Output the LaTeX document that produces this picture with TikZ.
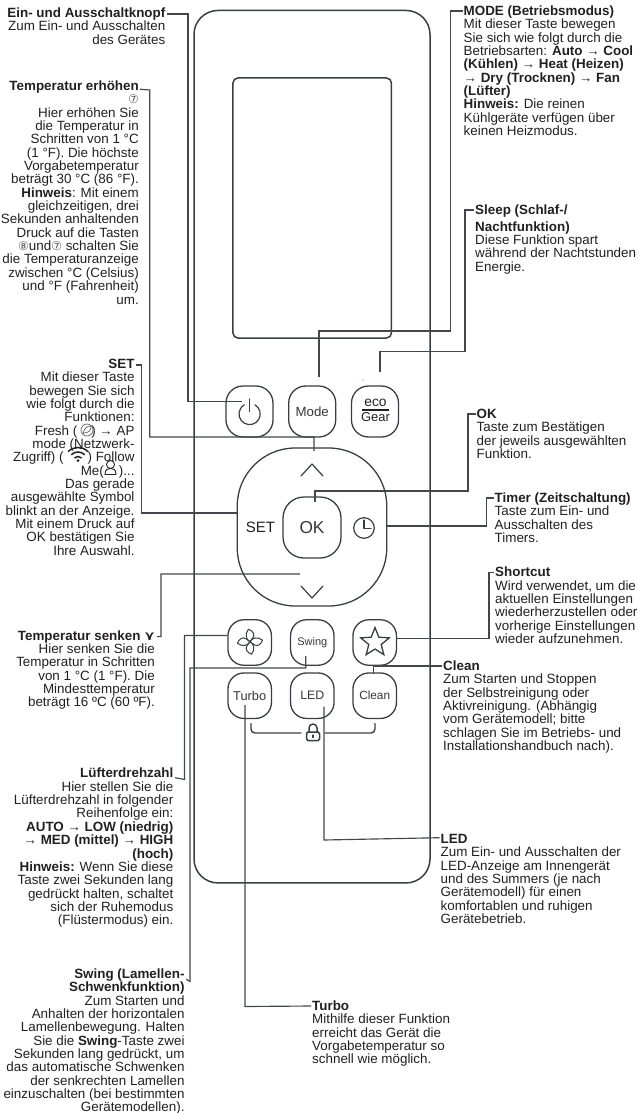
\documentclass[tikz,border=0pt]{standalone}
\usepackage{fontspec}
\usetikzlibrary{shapes.geometric}
\setmainfont{Liberation Sans}
\newfontfamily\djv{DejaVu Sans}
\definecolor{ink}{HTML}{231F20}
\definecolor{wire}{HTML}{43474B}
\definecolor{body}{HTML}{3A3E42}
\def\fs{\rule{0pt}{10pt}}
\newcommand{\cn}[1]{{\djv\fontsize{12}{10}\selectfont\textcolor{ink!75}{#1}}}
\tikzset{
  lbl/.style={inner sep=0pt,text=ink,font=\fontsize{13.4}{13.35}\selectfont},
  lblR/.style={lbl,anchor=north east,align=right},
  lblL/.style={lbl,anchor=north west,align=left},
  conn/.style={draw=wire,line width=1.15pt,line join=miter},
  btn/.style={draw=body,line width=1.3pt,rounded corners=17pt,inner sep=0pt,text=ink!90},
  icon/.style={draw=body,line width=1.2pt,line cap=round,line join=round},
}
\newcommand{\tr}[4]{\node[lblR] (#1) at (#2,{#3-5.8}) {\fs #4};}
\newcommand{\tl}[4]{\node[lblL] (#1) at (#2,{#3-5.8}) {\fs #4};}
\begin{document}
\begin{tikzpicture}[x=1pt,y=-1pt]
\useasboundingbox (0,0) rectangle (637,1113);
% housing
\node[draw=body,line width=1.5pt,rounded corners=24pt,inner sep=0pt,minimum width=236pt,minimum height=872.5pt] (housing) at (312,446.7) {};
\node[draw=body,line width=1.5pt,rounded corners=5pt,inner sep=0pt,minimum width=158.5pt,minimum height=260pt] (screen) at (312.2,208) {};
% buttons
\node[btn,minimum width=47pt,minimum height=51pt] (bPower) at (249.5,411.5) {};
\node[btn,minimum width=47pt,minimum height=51pt,font=\fontsize{13.3}{14}\selectfont] (bMode) at (312.2,411.5) {Mode};
\node[btn,minimum width=47pt,minimum height=51pt] (bEco) at (375,411.5) {};
\node[btn,minimum width=149.5pt,minimum height=158pt,rounded corners=58pt] (bPad) at (312,527) {};
\node[btn,minimum width=58pt,minimum height=61pt,rounded corners=21pt,font=\fontsize{17.3}{18}\selectfont] (bOK) at (312,527.5) {OK};
\node[inner sep=0pt,text=ink,font=\fontsize{15}{16}\selectfont] (lSET) at (260.5,527.5) {SET};
\node[btn,minimum width=43.5pt,minimum height=45.5pt,rounded corners=16pt] (bFan) at (249.7,642.5) {};
\node[btn,minimum width=43.5pt,minimum height=45.5pt,rounded corners=16pt,font=\fontsize{11}{12}\selectfont] (bSwing) at (312.3,642.5) {Swing};
\node[btn,minimum width=43.5pt,minimum height=45.5pt,rounded corners=16pt] (bStar) at (374.7,642.5) {};
\node[btn,minimum width=43.5pt,minimum height=45.5pt,rounded corners=16pt,font=\fontsize{12.8}{13}\selectfont] (bTurbo) at (249.7,695.7) {Turbo};
\node[btn,minimum width=43.5pt,minimum height=45.5pt,rounded corners=16pt,font=\fontsize{12.3}{13}\selectfont] (bLED) at (312.3,695.7) {LED};
\node[btn,minimum width=43.5pt,minimum height=45.5pt,rounded corners=16pt,font=\fontsize{11.8}{12}\selectfont] (bClean) at (374.7,695.7) {Clean};
% icons in buttons
\draw[icon] (249.6,414) ++(300:10.6) arc[start angle=300,end angle=600,radius=10.6];
\draw[icon] (249.4,399) -- (249.4,411.5);
\node[inner sep=0pt,text=ink,font=\fontsize{13.8}{14}\selectfont] (ecoA) at (375.5,403) {eco};
\node[inner sep=0pt,text=ink,font=\fontsize{12.9}{13}\selectfont] (ecoB) at (375.5,417.5) {Gear};
\draw[draw=ink,line width=1.6pt] (362,410) -- (389,410);
\draw[icon] (301,476) -- (312,464) -- (323,476);
\draw[icon] (301,586) -- (312,598) -- (323,586);
\draw[icon] (364,528) circle[radius=10.3];
\draw[icon] (364,520) -- (364,528.5) -- (371,528.5);
\foreach \r in {0,90,180,270}{
  \draw[icon,line width=1pt,shift={(250,641.7)},rotate=\r] (0,0) .. controls (-4,-2) and (-5.5,-8) .. (-1.5,-12.5) .. controls (3,-11) and (5,-7) .. (3.2,-4.5) .. controls (2.2,-3) and (1,-2) .. (0,0);
}
\node[star,star points=5,star point ratio=2.3,draw=body,line width=1.3pt,inner sep=0pt,minimum size=30pt] (iStar) at (375,642.5) {};
% lock
\draw[icon,line width=1.4pt] (251,723.5) -- (251,729) arc[start angle=180,end angle=90,radius=4] -- (301,733);
\draw[icon,line width=1.4pt] (375,723.5) -- (375,729) arc[start angle=0,end angle=90,radius=4] -- (325,733);
\draw[icon,line width=1.5pt,rounded corners=1.5pt] (306.5,732) rectangle (319.5,740.5);
\draw[icon,line width=1.5pt] (309,732) -- (309,728) arc[start angle=180,end angle=360,radius=4] -- (317,732);
\draw[icon,line width=1.2pt] (313,735) -- (313,737.5);
\fill[green!60!black!50] (362.8,380) circle[radius=0.8];
% texts left
\tr{tA}{165.5}{13}{\textbf{Ein- und Ausschaltknopf}\\Zum Ein- und Ausschalten\\des Gerätes}
\tr{tB}{139}{86}{\textbf{Temperatur erhöhen}\\\cn{⑦}\\Hier erhöhen Sie\\die Temperatur in\\Schritten von 1 °C\\(1 °F). Die höchste\\Vorgabetemperatur\\beträgt 30 °C (86 °F).\\\textbf{Hinweis}: Mit einem\\gleichzeitigen, drei\\Sekunden anhaltenden\\Druck auf die Tasten\\\cn{⑧}und\cn{⑦} schalten Sie\\die Temperaturanzeige\\zwischen °C (Celsius)\\und °F (Fahrenheit)\\um.}
\tr{tC}{134.7}{364}{\textbf{SET}\\Mit dieser Taste\\bewegen Sie sich\\wie folgt durch die\\Funktionen:\\Fresh (\hspace{14pt}) → AP\\mode (Netzwerk-\\Zugriff) (\hspace{24pt}) Follow\\Me(\hspace{15pt})...\\Das gerade\\ausgewählte Symbol\\blinkt an der Anzeige.\\Mit einem Druck auf\\OK bestätigen Sie\\Ihre Auswahl.}
\tr{tD}{155}{635.7}{\textbf{Temperatur senken} {\djv\bfseries\fontsize{13}{10}\selectfont ⋎}\\Hier senken Sie die\\Temperatur in Schritten\\von 1 °C (1 °F). Die\\Mindesttemperatur\\beträgt 16 ºC (60 ºF).}
\tr{tE}{173.5}{773.5}{\textbf{Lüfterdrehzahl}\\Hier stellen Sie die\\Lüfterdrehzahl in folgender\\Reihenfolge ein:\\\textbf{AUTO → LOW (niedrig)}\\\textbf{→ MED (mittel) → HIGH}\\\textbf{(hoch)}\\\textbf{Hinweis:} Wenn Sie diese\\Taste zwei Sekunden lang\\gedrückt halten, schaltet\\sich der Ruhemodus\\(Flüstermodus) ein.}
\tr{tF}{184.7}{974}{\textbf{Swing (Lamellen-}\\\textbf{Schwenkfunktion)}\\Zum Starten und\\Anhalten der horizontalen\\Lamellenbewegung. Halten\\Sie die \textbf{Swing}-Taste zwei\\Sekunden lang gedrückt, um\\das automatische Schwenken\\der senkrechten Lamellen\\einzuschalten (bei bestimmten\\Gerätemodellen).}
% texts right
\tl{tG}{463.5}{11}{\textbf{MODE (Betriebsmodus)}\\Mit dieser Taste bewegen\\Sie sich wie folgt durch die\\Betriebsarten: \textbf{Auto → Cool}\\\textbf{(Kühlen) → Heat (Heizen)}\\\textbf{→ Dry (Trocknen) → Fan}\\\textbf{(Lüfter)}\\\textbf{Hinweis:} Die reinen\\Kühlgeräte verfügen über\\keinen Heizmodus.}
\tl{tH}{475}{210}{\textbf{Sleep (Schlaf-/}\\[3.3pt]\textbf{Nachtfunktion)}\\Diese Funktion spart\\während der Nachtstunden\\Energie.}
\tl{tI}{476.5}{414}{\textbf{OK}\\Taste zum Bestätigen\\der jeweils ausgewählten\\Funktion.}
\tl{tJ}{494.5}{498}{\textbf{Timer (Zeitschaltung)}\\Taste zum Ein- und\\Ausschalten des\\Timers.}
\tl{tK}{495}{572.5}{\textbf{Shortcut}\\Wird verwendet, um die\\aktuellen Einstellungen\\wiederherzustellen oder\\vorherige Einstellungen\\wieder aufzunehmen.}
\tl{tL}{443}{666}{\textbf{Clean}\\Zum Starten und Stoppen\\der Selbstreinigung oder\\Aktivreinigung. (Abhängig\\vom Gerätemodell; bitte\\schlagen Sie im Betriebs- und\\Installationshandbuch nach).}
\tl{tM}{440.5}{839}{\textbf{LED}\\Zum Ein- und Ausschalten der\\LED-Anzeige am Innengerät\\und des Summers (je nach\\Gerätemodell) für einen\\komfortablen und ruhigen\\Gerätebetrieb.}
\tl{tN}{312}{1006}{\textbf{Turbo}\\Mithilfe dieser Funktion\\erreicht das Gerät die\\Vorgabetemperatur so\\schnell wie möglich.}
% inline icons
\draw[icon,line width=0.7pt,draw=ink!70] (87,430) circle[radius=6];
\draw[icon,line width=0.7pt,draw=ink!70] (83,434) .. controls (84,428) and (87,426) .. (91,426) .. controls (91,431) and (88,433) .. (84,433);
\foreach \q in {5,9.5,14}{\draw[draw=ink,line width=1.5pt] (78,461.5) ++(225:\q) arc[start angle=225,end angle=315,radius=\q];}
\fill[ink] (78,460.5) circle[radius=1.5];
\draw[icon,line width=0.9pt,draw=ink] (110.5,464.5) circle[radius=4];
\draw[icon,line width=0.9pt,draw=ink] (105,474.5) .. controls (105,469) and (108,468.5) .. (110.5,468.5) .. controls (113,468.5) and (116,469) .. (116,474.5) -- cycle;
% connectors
\draw[conn] ([shift={(1pt,-6.8pt)}]tA.north east) -- (188,14) -- (188,401.7) -- ([shift={(-7.8pt,9.8pt)}]bPower.center);
\draw[conn] ([shift={(1pt,-9pt)}]tB.north east) -- (149.7,90) -- (149.7,437) -- (314,437) -- (314,451);
\draw[conn] ([shift={(1pt,-6.8pt)}]tC.north east) -- (141.7,365) -- (141.7,513) -- (bPad.west|-0,513);
\draw[conn] ([shift={(2pt,-6.8pt)}]tD.north east) -- (161,636.5) -- (161,574) -- (300,574);
\draw[conn] ([shift={(1.5pt,-10pt)}]tE.north east) -- (184.5,779.5) -- (184.5,635.5) -- (bFan.west|-0,635.5);
\draw[conn] ([shift={(1.5pt,-11pt)}]tF.north east) -- (190,981.5) -- (190,668) -- (305.7,668) -- (305.7,656);
\draw[conn] ([shift={(-1pt,-5.8pt)}]tG.north west) -- (450.7,11) -- (450.7,331) -- (319,331) -- (319,377);
\draw[conn] ([shift={(-1pt,-5.8pt)}]tH.north west) -- (465,210) -- (465,351.7) -- (380,351.7) -- (380,372);
\draw[conn] ([shift={(-1pt,-5.8pt)}]tI.north west) -- (468,414) -- (468,491) -- (315,491) -- (315,501.5);
\draw[conn] ([shift={(-1pt,-5.8pt)}]tJ.north west) -- (486.7,498) -- (486.7,526) -- (bPad.east|-0,526);
\draw[conn] ([shift={(-1pt,-5.8pt)}]tK.north west) -- (489,572.5) -- (489,638.5) -- (bStar.east|-0,638.5);
\draw[conn] ([shift={(-1pt,-5.8pt)}]tL.north west) -- (373.5,666) -- (373.5,674);
\draw[conn] ([shift={(-1pt,-4.5pt)}]tM.north west) -- (324,840) -- (324,706.5);
\draw[conn] ([shift={(-1pt,-5.8pt)}]tN.north west) -- (245,1006.5) -- (245,705);
\end{tikzpicture}
\end{document}
